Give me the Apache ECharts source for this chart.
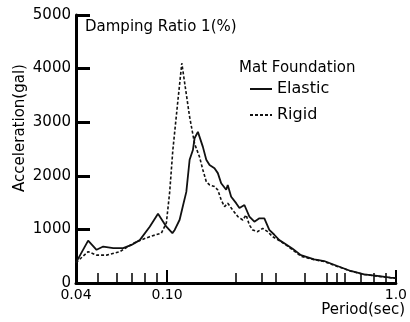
<!DOCTYPE html>
<html>
<head>
<meta charset="utf-8">
<script src="https://cdn.jsdelivr.net/npm/echarts@6/dist/echarts.min.js"></script>
<style>html,body{margin:0;padding:0;background:#fff}#c{width:410px;height:322px}</style>
</head>
<body>
<div id="c"></div>
<script>
// ---- data ----
const elasticPeriod = [0.04, 0.0452, 0.0492, 0.0526, 0.0582, 0.0643, 0.0699, 0.076, 0.084, 0.0913, 0.0993, 0.1055, 0.108, 0.1135, 0.1175, 0.1214, 0.1255, 0.1297, 0.1319, 0.1364, 0.1434, 0.1484, 0.1534, 0.1612, 0.1667, 0.1724, 0.1813, 0.1842, 0.1906, 0.2004, 0.2072, 0.2178, 0.229, 0.2408, 0.2532, 0.2662, 0.2798, 0.2943, 0.3094, 0.3254, 0.3537, 0.3846, 0.4396, 0.486, 0.555, 0.635, 0.726, 0.829, 0.948, 1.0];
const elasticAccel  = [380, 790, 620, 680, 650, 650, 710, 800, 1050, 1290, 1050, 930, 990, 1180, 1450, 1700, 2300, 2480, 2700, 2820, 2540, 2300, 2200, 2140, 2050, 1860, 1740, 1830, 1610, 1490, 1400, 1455, 1240, 1145, 1207, 1207, 990, 900, 800, 740, 640, 520, 442, 410, 317, 224, 162, 131, 99, 90];
const rigidPeriod = [0.04, 0.0452, 0.0492, 0.0544, 0.0622, 0.0675, 0.0735, 0.084, 0.0944, 0.0993, 0.1027, 0.106, 0.1116, 0.116, 0.1255, 0.1319, 0.1387, 0.1434, 0.1484, 0.1534, 0.1612, 0.1667, 0.1724, 0.1783, 0.1842, 0.1937, 0.2037, 0.2142, 0.2216, 0.229, 0.2368, 0.2489, 0.2617, 0.2751, 0.2893, 0.3148, 0.3254, 0.3537, 0.3846, 0.4396, 0.486, 0.555, 0.635, 0.726, 0.829, 0.948, 1.0];
const rigidAccel  = [380, 585, 520, 520, 585, 680, 770, 865, 930, 1120, 1700, 2480, 3415, 4100, 3100, 2600, 2350, 2110, 1890, 1830, 1800, 1735, 1550, 1425, 1487, 1360, 1240, 1176, 1270, 1080, 990, 957, 1020, 957, 864, 771, 730, 620, 500, 435, 400, 310, 220, 160, 128, 97, 88];
const tickPeriods = [0.05, 0.06, 0.07, 0.08, 0.09, 0.2, 0.26, 0.3, 0.4, 0.5, 0.55, 0.6, 0.7, 0.8, 0.9];
const majorTickPeriods = [0.1, 1.0];
const labelPeriods = [0.04, 0.1, 1.0];
const labelTexts = ['0.04', '0.10', '1.0'];
const seriesNames = ['Elastic', 'Rigid'];
const yMin = 0, yMax = 5000, yStep = 1000;

const FONT = 'DejaVu Sans';
const L = Math.log10;
const xMinL = L(0.04), xMaxL = L(1.0);
const zip = (a, b) => a.map((v, i) => [v, b[i]]);

const chart = echarts.init(document.getElementById('c'), null, {renderer: 'canvas'});
chart.setOption({
  animation: false,
  backgroundColor: '#fff',
  textStyle: {fontFamily: FONT, color: '#000'},
  grid: {left: 76, right: 13, top: 15, bottom: 39, containLabel: false},
  title: [
    {text: 'Damping Ratio 1(%)', left: 85, top: 20, padding: 0,
     textStyle: {fontFamily: FONT, fontSize: 15, fontWeight: 'normal', color: '#000'}},
    {text: 'Mat Foundation', left: 239, top: 61, padding: 0,
     textStyle: {fontFamily: FONT, fontSize: 15, fontWeight: 'normal', color: '#000'}},
    {text: 'Period(sec)', right: 5, top: 303, padding: 0,
     textStyle: {fontFamily: FONT, fontSize: 15, fontWeight: 'normal', color: '#000'}}
  ],
  legend: {
    data: seriesNames, orient: 'vertical', left: 249, top: 81, padding: 0,
    itemWidth: 22, itemHeight: 16, itemGap: 10,
    itemStyle: {color: 'rgba(0,0,0,0)', borderWidth: 0},
    textStyle: {fontFamily: FONT, fontSize: 16, color: '#000'}
  },
  graphic: [{
    type: 'text', x: 20, y: 128, rotation: Math.PI / 2,
    style: {text: 'Acceleration(gal)', fontFamily: FONT, fontSize: 15, fill: '#000',
            align: 'center', verticalAlign: 'middle'}
  }],
  xAxis: [
    {type: 'log', logBase: 10, min: 0.04, max: 1.0,
     axisLine: {show: true, onZero: false, lineStyle: {color: '#000', width: 3}},
     axisTick: {show: false}, axisLabel: {show: false}, splitLine: {show: false}},
    {type: 'value', min: xMinL, max: xMaxL, position: 'bottom',
     axisLine: {show: false, onZero: false}, splitLine: {show: false},
     axisTick: {show: true, inside: true, length: 10, customValues: tickPeriods.map(L),
                lineStyle: {color: '#000', width: 1.5}},
     axisLabel: {show: true, margin: 5, fontSize: 14, color: '#000', fontFamily: FONT,
                 customValues: labelPeriods.map(L),
                 formatter: v => {
                   const i = labelPeriods.findIndex(p => Math.abs(L(p) - v) < 1e-6);
                   return i >= 0 ? labelTexts[i] : '';
                 }}},
    {type: 'value', min: xMinL, max: xMaxL, position: 'bottom',
     axisLine: {show: false, onZero: false}, splitLine: {show: false}, axisLabel: {show: false},
     axisTick: {show: true, inside: true, length: 13, customValues: majorTickPeriods.map(L),
                lineStyle: {color: '#000', width: 2}}}
  ],
  yAxis: {
    type: 'value', min: yMin, max: yMax, interval: yStep, position: 'left',
    axisLine: {show: true, onZero: false, lineStyle: {color: '#000', width: 3}},
    axisTick: {show: true, inside: true, length: 14, lineStyle: {color: '#000', width: 3}},
    axisLabel: {margin: 5, fontSize: 15, color: '#000', fontFamily: FONT, formatter: v => String(v)},
    splitLine: {show: false}
  },
  series: [
    {name: seriesNames[0], type: 'line', xAxisIndex: 0, symbol: 'none',
     data: zip(elasticPeriod, elasticAccel),
     lineStyle: {color: '#111', width: 1.8}, itemStyle: {color: '#111'}},
    {name: seriesNames[1], type: 'line', xAxisIndex: 0, symbol: 'none',
     data: zip(rigidPeriod, rigidAccel),
     lineStyle: {color: '#111', width: 1.6, type: [3, 2]}, itemStyle: {color: '#111'}}
  ]
});
</script>
</body>
</html>
